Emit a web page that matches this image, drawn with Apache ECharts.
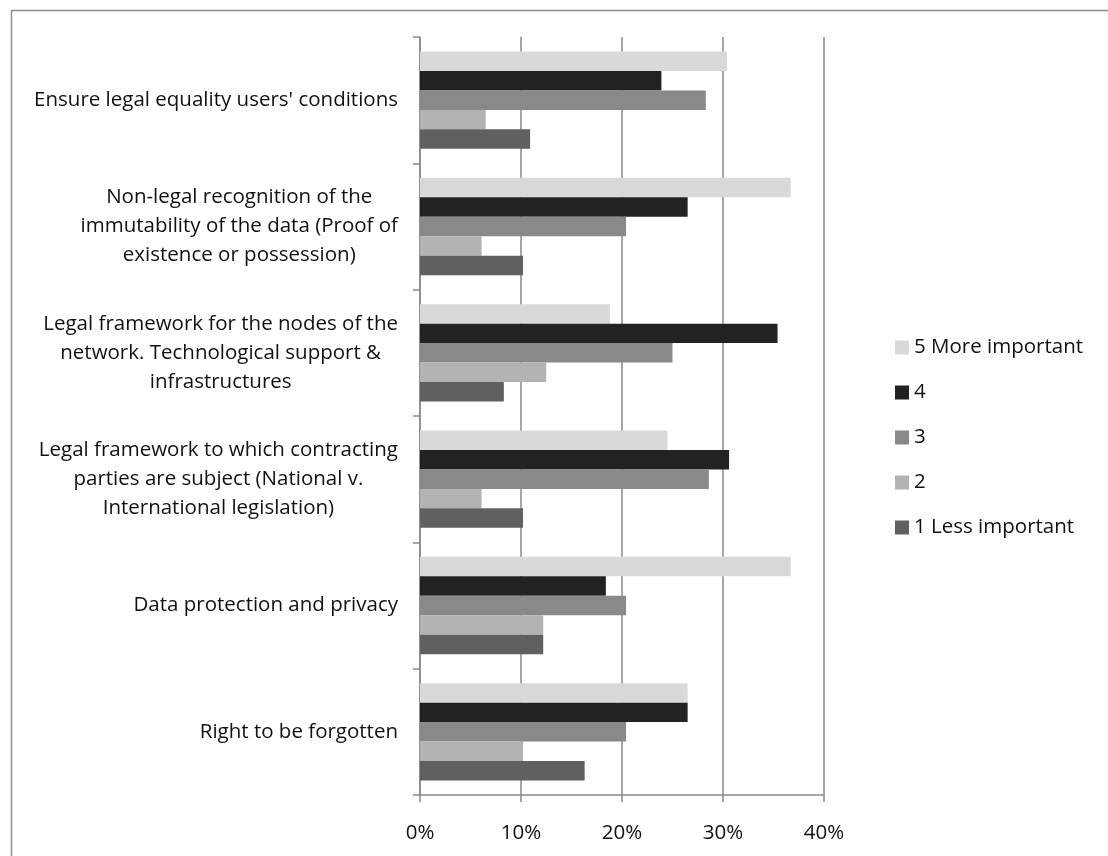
<!DOCTYPE html>
<html>
<head>
<meta charset="utf-8">
<script src="https://cdn.jsdelivr.net/npm/echarts@6/dist/echarts.min.js"></script>
<style>
html,body{margin:0;padding:0;background:#fff;}
#chart{width:1108px;height:856px;}
</style>
</head>
<body>
<div id="chart"></div>
<script>
const categories = [
  "Ensure legal equality users' conditions",
  "Non-legal recognition of the\nimmutability of the data (Proof of\nexistence or possession)",
  "Legal framework for the nodes of the\nnetwork. Technological support &\ninfrastructures",
  "Legal framework to which contracting\nparties are subject (National v.\nInternational legislation)",
  "Data protection and privacy",
  "Right to be forgotten"
];
const seriesNames = ["5 More important", "4", "3", "2", "1 Less important"];
const s5 = [30.4, 36.7, 18.8, 24.5, 36.7, 26.5];
const s4 = [23.9, 26.5, 35.4, 30.6, 18.4, 26.5];
const s3 = [28.3, 20.4, 25.0, 28.6, 20.4, 20.4];
const s2 = [6.5, 6.1, 12.5, 6.1, 12.2, 10.2];
const s1 = [10.9, 10.2, 8.3, 10.2, 12.2, 16.3];
const xTicks = [0, 10, 20, 30, 40];

const colors = ['#d9d9d9', '#222222', '#898989', '#b3b3b3', '#606060'];
const FONT = 'Open Sans';
const FS = 20.5;

const chart = echarts.init(document.getElementById('chart'), null, {renderer: 'canvas'});
const dataSets = [s5, s4, s3, s2, s1];
chart.setOption({
  animation: false,
  backgroundColor: '#fff',
  textStyle: {fontFamily: FONT},
  graphic: [{
    type: 'rect', left: 9, top: 8, silent: true,
    shape: {width: 1200, height: 1000},
    style: {fill: 'none', stroke: '#8f8f8f', lineWidth: 1.5}
  }],
  grid: {left: 420, right: 284, top: 37, bottom: 61, containLabel: false},
  legend: {
    orient: 'vertical', left: 890, top: 332,
    data: seriesNames,
    icon: 'rect', itemWidth: 14, itemHeight: 14, itemGap: 24, itemTextGap: 5,
    textStyle: {fontFamily: FONT, fontSize: FS, color: '#111', lineHeight: 20}
  },
  xAxis: {
    type: 'value', min: xTicks[0], max: xTicks[xTicks.length - 1], interval: 10,
    axisLine: {show: true, lineStyle: {color: '#8a8a8a', width: 1.5}},
    axisTick: {show: true, length: 7, lineStyle: {color: '#8a8a8a', width: 1.5}},
    splitLine: {show: true, lineStyle: {color: '#8a8a8a', width: 1.5}},
    axisLabel: {fontFamily: FONT, fontSize: FS, color: '#111', margin: 28, formatter: v => v + '%'}
  },
  yAxis: {
    type: 'category', inverse: true, data: categories,
    axisLine: {show: true, lineStyle: {color: '#8a8a8a', width: 1.5}},
    axisTick: {show: true, length: 7, lineStyle: {color: '#8a8a8a', width: 1.5}},
    splitLine: {show: false},
    axisLabel: {
      fontFamily: FONT, fontSize: FS, color: '#111', margin: 22, lineHeight: 29,
      formatter: v => v.split('\n').map(l => '{c|' + l + '}').join('\n'),
      rich: {c: {align: 'center', fontFamily: FONT, fontSize: FS, color: '#111', lineHeight: 29}}
    }
  },
  series: seriesNames.map((n, i) => ({
    name: n, type: 'bar', data: dataSets[i],
    barGap: '0%', barCategoryGap: '23%',
    itemStyle: {color: colors[i]}
  }))
});
</script>
</body>
</html>
